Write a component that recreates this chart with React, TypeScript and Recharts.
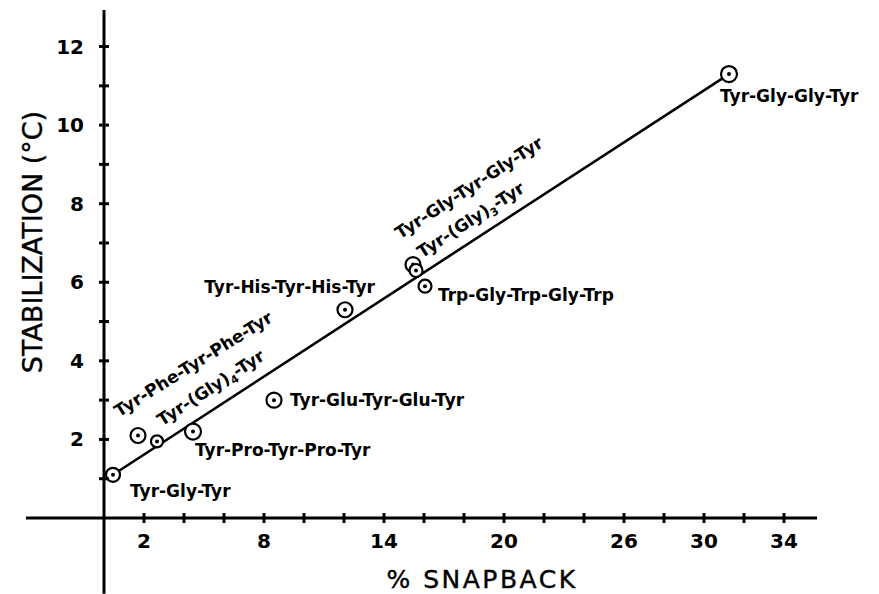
import React from "react";
import { ScatterChart, Scatter, XAxis, YAxis, ReferenceLine, Label } from "recharts";

// peptide series
const peptides = [
  "Tyr-Gly-Tyr",
  "Tyr-Phe-Tyr-Phe-Tyr",
  "Tyr-(Gly)4-Tyr",
  "Tyr-Pro-Tyr-Pro-Tyr",
  "Tyr-Glu-Tyr-Glu-Tyr",
  "Tyr-His-Tyr-His-Tyr",
  "Tyr-Gly-Tyr-Gly-Tyr",
  "Tyr-(Gly)3-Tyr",
  "Trp-Gly-Trp-Gly-Trp",
  "Tyr-Gly-Gly-Tyr",
];
const snapback = [0.45, 1.7, 2.65, 4.45, 8.5, 12.05, 15.45, 15.6, 16.05, 31.25];
const stabilization = [1.1, 2.1, 1.95, 2.2, 3.0, 5.3, 6.45, 6.3, 5.9, 11.3];

// straight line drawn through the points
const fitSnapback = [0.45, 31.25];
const fitStabilization = [1.1, 11.3];

const xTicks = [2, 4, 6, 8, 10, 12, 14, 16, 18, 20, 22, 24, 26, 28, 30, 32, 34];
const xTickLabels = [2, 8, 14, 20, 26, 30, 34];
const yTicks = [1, 2, 3, 4, 5, 6, 7, 8, 9, 10, 11, 12];
const yTickLabels = [2, 4, 6, 8, 10, 12];

const xMin = -3.9;
const xMax = 35.65;
const yMin = -1.93;
const yMax = 12.93;

const points = peptides.map((name, i) => ({ name, x: snapback[i], y: stabilization[i] }));
const fitData = fitSnapback.map((x, i) => ({ x, y: fitStabilization[i] }));

// where each label sits relative to its marker (pixels / degrees)
const placement: Record<string, { dx: number; dy: number; angle?: number; anchor?: "start" | "end"; r: number }> = {
  "Tyr-Gly-Tyr": { dx: 17, dy: 22, r: 7 },
  "Tyr-Phe-Tyr-Phe-Tyr": { dx: -19, dy: -18, angle: -32, r: 7.5 },
  "Tyr-(Gly)4-Tyr": { dx: 5, dy: -15, angle: -33, r: 6 },
  "Tyr-Pro-Tyr-Pro-Tyr": { dx: 2, dy: 24, r: 8 },
  "Tyr-Glu-Tyr-Glu-Tyr": { dx: 16, dy: 6, r: 7.5 },
  "Tyr-His-Tyr-His-Tyr": { dx: 30, dy: -17, anchor: "end", r: 7.5 },
  "Tyr-Gly-Tyr-Gly-Tyr": { dx: -13, dy: -25, angle: -33, r: 7.5 },
  "Tyr-(Gly)3-Tyr": { dx: 6, dy: -12, angle: -33, r: 6.5 },
  "Trp-Gly-Trp-Gly-Trp": { dx: 13, dy: 15, r: 6.5 },
  "Tyr-Gly-Gly-Tyr": { dx: -9, dy: 28, r: 8 },
};

const FONT = "'DejaVu Sans', sans-serif";

const PeptideText = ({ name, x, y, angle, anchor }: any) => {
  const m = name.match(/^(.*\))(\d)(.*)$/);
  return (
    <text
      x={x}
      y={y}
      textAnchor={anchor || "start"}
      transform={angle ? `rotate(${angle} ${x} ${y})` : undefined}
      fontFamily={FONT}
      fontWeight={700}
      fontSize={17}
      fill="#000"
    >
      {m ? (
        <>
          {m[1]}
          <tspan fontSize={11} dy={4}>{m[2]}</tspan>
          <tspan dy={-4}>{m[3]}</tspan>
        </>
      ) : (
        name
      )}
    </text>
  );
};

const Marker = (props: any) => {
  const { cx, cy, payload } = props;
  const p = placement[payload.name];
  return (
    <g>
      <circle cx={cx} cy={cy} r={p.r} fill="#fff" stroke="#000" strokeWidth={2.2} />
      <circle cx={cx} cy={cy} r={2} fill="#000" />
      <PeptideText name={payload.name} x={cx + p.dx} y={cy + p.dy} angle={p.angle} anchor={p.anchor} />
    </g>
  );
};

const XTick = ({ x, y, payload }: any) => (
  <g>
    <line x1={x} x2={x} y1={y - 5} y2={y + 5} stroke="#000" strokeWidth={3} />
    {xTickLabels.includes(payload.value) && (
      <text x={x} y={y + 23} textAnchor="middle" dominantBaseline="central" fontFamily={FONT} fontWeight={700} fontSize={20} fill="#000">
        {payload.value}
      </text>
    )}
  </g>
);

const YTick = ({ x, y, payload }: any) => (
  <g>
    <line x1={x - 5} x2={x + 5} y1={y} y2={y} stroke="#000" strokeWidth={3} />
    {yTickLabels.includes(payload.value) && (
      <text x={x - 20} y={y} textAnchor="end" dominantBaseline="central" fontFamily={FONT} fontWeight={700} fontSize={20} fill="#000">
        {payload.value}
      </text>
    )}
  </g>
);

const XTitle = ({ viewBox }: any) => (
  <text
    x={viewBox.x + 378}
    y={viewBox.y + 61}
    textAnchor="middle"
    dominantBaseline="central"
    fontFamily={FONT}
    fontSize={25}
    letterSpacing={2.5}
    stroke="#000"
    strokeWidth={0.4}
    fill="#000"
  >
    % SNAPBACK
  </text>
);

const YTitle = ({ viewBox }: any) => {
  const cx = viewBox.x + 32;
  const cy = viewBox.y + 232;
  return (
    <text
      x={cx}
      y={cy}
      transform={`rotate(-90 ${cx} ${cy})`}
      textAnchor="middle"
      dominantBaseline="central"
      fontFamily={FONT}
      fontSize={27}
      stroke="#000"
      strokeWidth={0.4}
      fill="#000"
    >
      STABILIZATION (°C)
    </text>
  );
};

const App = () => (
  <div style={{ position: "absolute", left: 0, top: 0, width: 879, height: 594, background: "#fff" }}>
    <ScatterChart width={879} height={594} margin={{ top: 10, right: 62, bottom: 0, left: 0 }}>
      <XAxis
        type="number"
        dataKey="x"
        domain={[0, xMax]}
        ticks={xTicks}
        interval={0}
        height={76}
        axisLine={false}
        tickLine={false}
        tickSize={0}
        tickMargin={0}
        tick={<XTick />}
      >
        <Label content={<XTitle />} />
      </XAxis>
      <YAxis
        type="number"
        dataKey="y"
        domain={[0, yMax]}
        ticks={yTicks}
        interval={0}
        width={104}
        axisLine={false}
        tickLine={false}
        tickSize={0}
        tickMargin={0}
        tick={<YTick />}
      >
        <Label content={<YTitle />} />
      </YAxis>
      <ReferenceLine
        segment={[{ x: xMin, y: 0 }, { x: xMax, y: 0 }]}
        ifOverflow="visible"
        stroke="#000"
        strokeWidth={3}
      />
      <ReferenceLine
        segment={[{ x: 0, y: yMin }, { x: 0, y: yMax }]}
        ifOverflow="visible"
        stroke="#000"
        strokeWidth={3}
      />
      <Scatter data={fitData} line={{ stroke: "#000", strokeWidth: 2.6 }} shape={() => <g />} isAnimationActive={false} />
      <Scatter data={points} shape={<Marker />} isAnimationActive={false} />
    </ScatterChart>
  </div>
);

export default App;
